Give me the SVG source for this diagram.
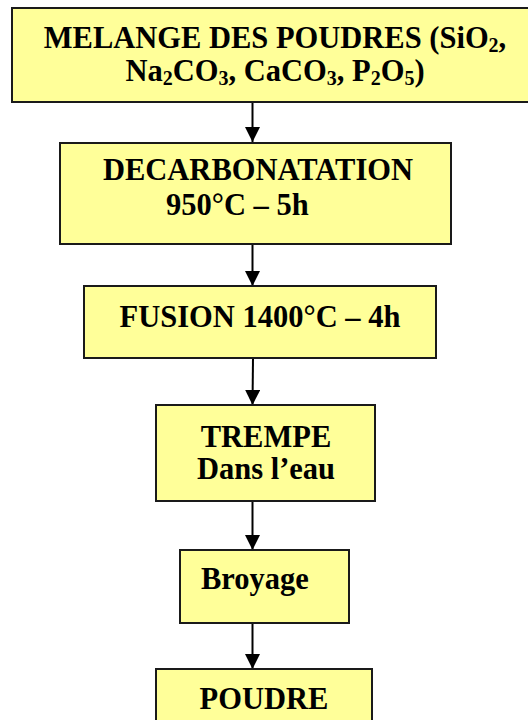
<svg xmlns="http://www.w3.org/2000/svg" width="528" height="720" viewBox="0 0 528 720">
<style>
.box{fill:#FFFF99;stroke:#1a1a1a;stroke-width:2}
.t{font-family:"Liberation Serif","Times New Roman",serif;font-weight:bold;font-size:30.5px;fill:#000}
.s{font-size:20px}
.c{stroke:#000;stroke-width:2;fill:none}
</style>
<defs>
<marker id="ah" viewBox="0 0 15 16" refX="15" refY="7.5" markerWidth="15" markerHeight="16" markerUnits="userSpaceOnUse" orient="auto">
<path d="M0,0 L15,7.5 L0,15 Z" fill="#000"/>
</marker>
</defs>
<rect width="528" height="720" fill="#fff"/>
<g id="connectors">
<line class="c" x1="252.5" y1="102" x2="252.5" y2="142" marker-end="url(#ah)"/>
<line class="c" x1="252.5" y1="244" x2="252.5" y2="286" marker-end="url(#ah)"/>
<line class="c" x1="253" y1="358" x2="252.5" y2="405" marker-end="url(#ah)"/>
<line class="c" x1="252.5" y1="501" x2="252.5" y2="550" marker-end="url(#ah)"/>
<line class="c" x1="252.5" y1="623" x2="252.5" y2="669" marker-end="url(#ah)"/>
</g>
<g id="n1">
<rect class="box" x="12" y="8" width="530" height="94"/>
<text class="t" x="275" y="47.5" text-anchor="middle">MELANGE DES POUDRES (SiO<tspan class="s" dy="4.5">2</tspan><tspan dy="-4.5">,</tspan></text>
<text class="t" x="275" y="80.5" text-anchor="middle">Na<tspan class="s" dy="4.5">2</tspan><tspan dy="-4.5">CO</tspan><tspan class="s" dy="4.5">3</tspan><tspan dy="-4.5">, CaCO</tspan><tspan class="s" dy="4.5">3</tspan><tspan dy="-4.5">, P</tspan><tspan class="s" dy="4.5">2</tspan><tspan dy="-4.5">O</tspan><tspan class="s" dy="4.5">5</tspan><tspan dy="-4.5">)</tspan></text>
</g>
<g id="n2">
<rect class="box" x="60" y="143" width="391" height="101"/>
<text class="t" x="258" y="180" text-anchor="middle">DECARBONATATION</text>
<text class="t" x="166" y="215">950°C – 5h</text>
</g>
<g id="n3">
<rect class="box" x="84" y="286" width="352" height="72"/>
<text class="t" x="260" y="327" text-anchor="middle">FUSION 1400°C – 4h</text>
</g>
<g id="n4">
<rect class="box" x="156" y="405" width="219" height="96"/>
<text class="t" x="266" y="447" text-anchor="middle">TREMPE</text>
<text class="t" x="266" y="479" text-anchor="middle">Dans l’eau</text>
</g>
<g id="n5">
<rect class="box" x="180" y="550" width="169" height="73"/>
<text class="t" x="201" y="589">Broyage</text>
</g>
<g id="n6">
<rect class="box" x="156" y="669" width="216" height="60"/>
<text class="t" x="264" y="709" text-anchor="middle">POUDRE</text>
</g>
</svg>
